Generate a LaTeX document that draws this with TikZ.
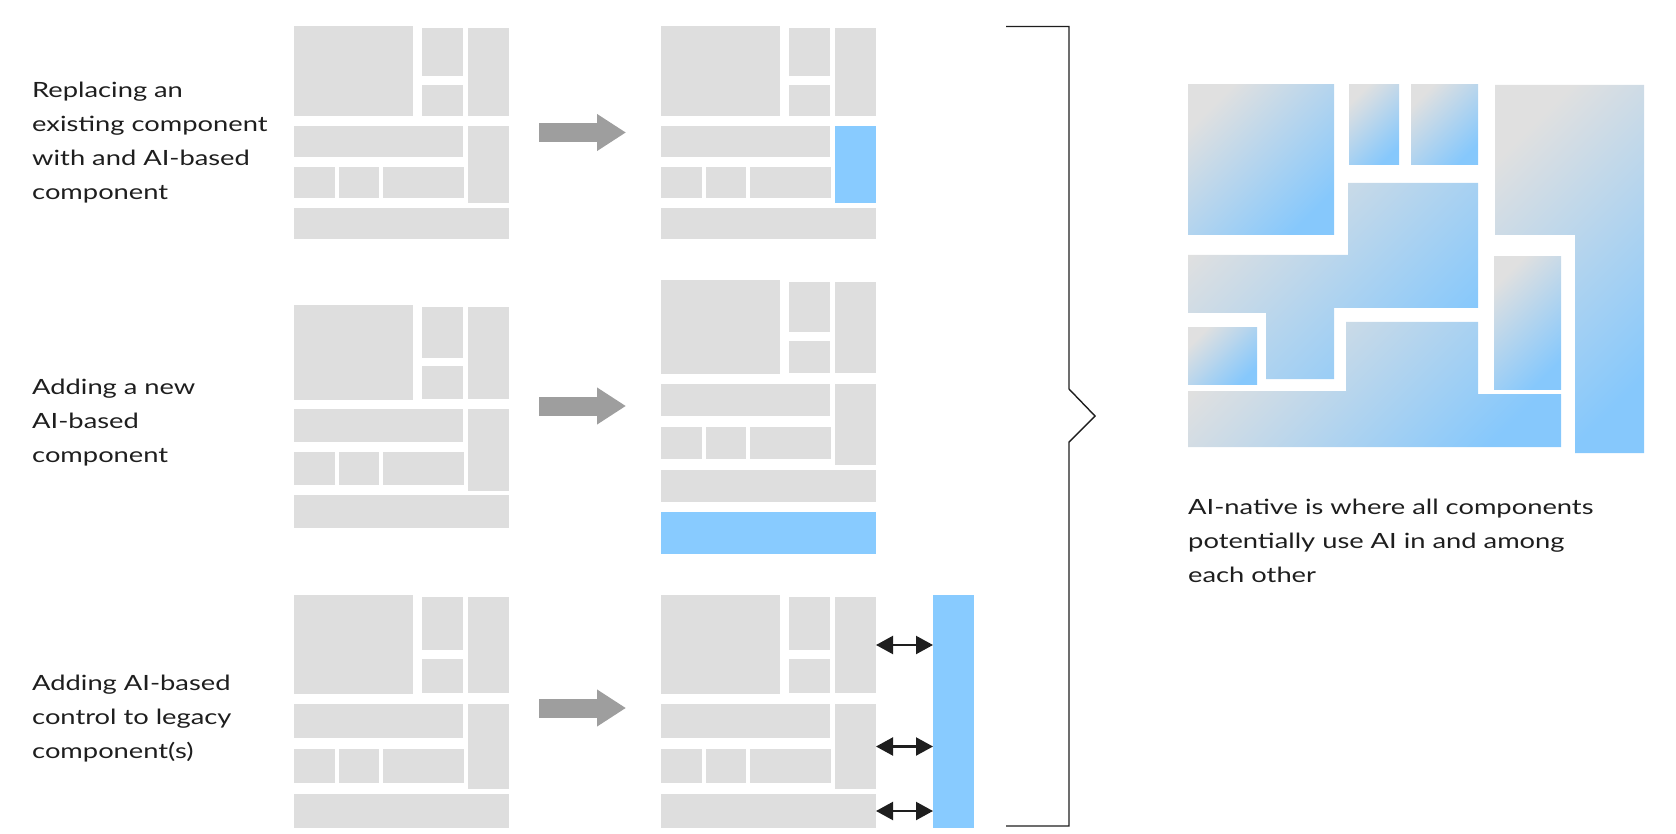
\documentclass[tikz,border=0pt]{standalone}
\usepackage{fontspec}
\setmainfont[FakeStretch=1.3]{Lato}
\usetikzlibrary{arrows.meta}
\definecolor{gbox}{RGB}{222,222,222}
\definecolor{bbox}{RGB}{136,203,255}
\definecolor{garr}{RGB}{158,158,158}
\definecolor{ink}{RGB}{30,30,30}
\definecolor{gradg}{RGB}{224,224,224}
\definecolor{gradb}{RGB}{134,200,252}
\tikzset{
  graybox/.style={fill=gbox},
  bluebox/.style={fill=bbox},
  panelbox/.style={draw=none,inner sep=0pt,outer sep=0pt},
  bigarrow/.style={draw=garr,line width=19pt,-{Triangle[length=29pt,width=35pt]}},
  dblarrow/.style={draw=ink,line width=2.2pt,{Triangle[length=17pt,width=18pt]}-{Triangle[length=17pt,width=18pt]}},
  bracket/.style={draw=ink,line width=1.4pt},
  ainative/.style={top color=gradg,bottom color=gradb,shading angle=45},
  lbl/.style={anchor=base west,align=left,inner sep=0pt,text=ink,font=\fontsize{21}{34}\selectfont}
}
% #1 name, #2 x0, #3 top, #4 height, #5 style of tall right element
\newcommand\mypanel[5]{%
  \pgfmathsetmacro\ps{#4/233}%
  \begin{scope}[shift={(#2,#3)},yscale=\ps]
    \fill[graybox] (0,0) rectangle (119,99);
    \fill[graybox] (128,2) rectangle (169,55);
    \fill[graybox] (128,64) rectangle (169,98);
    \fill[graybox] (174,2) rectangle (215,98);
    \fill[graybox] (0,109) rectangle (169,143);
    \fill[graybox] (0,154) rectangle (41,188);
    \fill[graybox] (45,154) rectangle (85,188);
    \fill[graybox] (89,154) rectangle (170,188);
    \fill[#5] (174,109) rectangle (215,194);
    \fill[graybox] (0,199) rectangle (215,233);
    \coordinate (#1-rc) at (215,50);
    \coordinate (#1-tl) at (215,151.5);
    \coordinate (#1-bt) at (215,216);
  \end{scope}
  \node[panelbox,minimum width=215pt,minimum height=#4pt] (#1) at ({#2+107.5},{#3+#4/2}) {};
}
\begin{document}
\begin{tikzpicture}[x=1pt,y=-1pt]
\useasboundingbox (0,0) rectangle (1676,834);

% labels (anchor = baseline of the last line)
\node[lbl] (t1) at (32,200) {Replacing an\\existing component\\with and AI-based\\component};
\node[lbl] (t2) at (32,462) {Adding a new\\AI-based\\component};
\node[lbl] (t3) at (32,758) {Adding AI-based\\control to legacy\\component(s)};
\node[lbl] (t4) at (1188,582) {AI-native is where all components\\potentially use AI in and among\\each other};

% panels
\mypanel{L1}{294}{26}{213}{graybox}
\mypanel{R1}{661}{26}{213}{bluebox}
\mypanel{L2}{294}{305}{223}{graybox}
\mypanel{R2}{661}{280}{222}{graybox}
\mypanel{L3}{294}{595}{233}{graybox}
\mypanel{R3}{661}{595}{233}{graybox}

% added AI components
\node[panelbox,bluebox,minimum width=215pt,minimum height=42pt] (B2) at (768.5,533) {};
\node[panelbox,bluebox,minimum width=41pt,minimum height=233pt] (B3) at (953.5,711.5) {};

% transformation arrows
\draw[bigarrow] ([xshift=30pt]L1.east) -- ([xshift=-35pt]R1.west);
\draw[bigarrow] ([xshift=30pt]L2.east |- 0,406) -- ([xshift=-35pt]R2.west |- 0,406);
\draw[bigarrow] ([xshift=30pt]L3.east |- 0,708) -- ([xshift=-35pt]R3.west |- 0,708);

% control arrows
\draw[dblarrow] (R3-rc) -- (B3.west |- R3-rc);
\draw[dblarrow] (R3-tl) -- (B3.west |- R3-tl);
\draw[dblarrow] (R3-bt) -- (B3.west |- R3-bt);

% brace
\coordinate (brA) at (1006,26.5);
\coordinate (brB) at (1069,26.5);
\coordinate (brC) at (1069,389);
\coordinate (brP) at (1095,416);
\coordinate (brD) at (1069,442);
\coordinate (brE) at (1069,826);
\coordinate (brF) at (1006,826);
\draw[bracket] (brA) -- (brB) -- (brC) -- (brP) -- (brD) -- (brE) -- (brF);

% AI-native architecture
\shade[ainative] (1188,85) rectangle (1334,235);
\shade[ainative] (1349,85) rectangle (1399,165);
\shade[ainative] (1411,85) rectangle (1478,165);
\shade[ainative] (1495,85) -- (1644,85) -- (1644,453) -- (1575,453) -- (1575,235) -- (1495,235) -- cycle;
\shade[ainative] (1348,183) -- (1478,183) -- (1478,308) -- (1334,308) -- (1334,379) -- (1266,379) -- (1266,313) -- (1188,313) -- (1188,255) -- (1348,255) -- cycle;
\shade[ainative] (1188,328) rectangle (1257,384);
\shade[ainative] (1346,322) -- (1478,322) -- (1478,394) -- (1561,394) -- (1561,447) -- (1188,447) -- (1188,391) -- (1346,391) -- cycle;
\shade[ainative] (1494,257) rectangle (1561,389);
\end{tikzpicture}
\end{document}
